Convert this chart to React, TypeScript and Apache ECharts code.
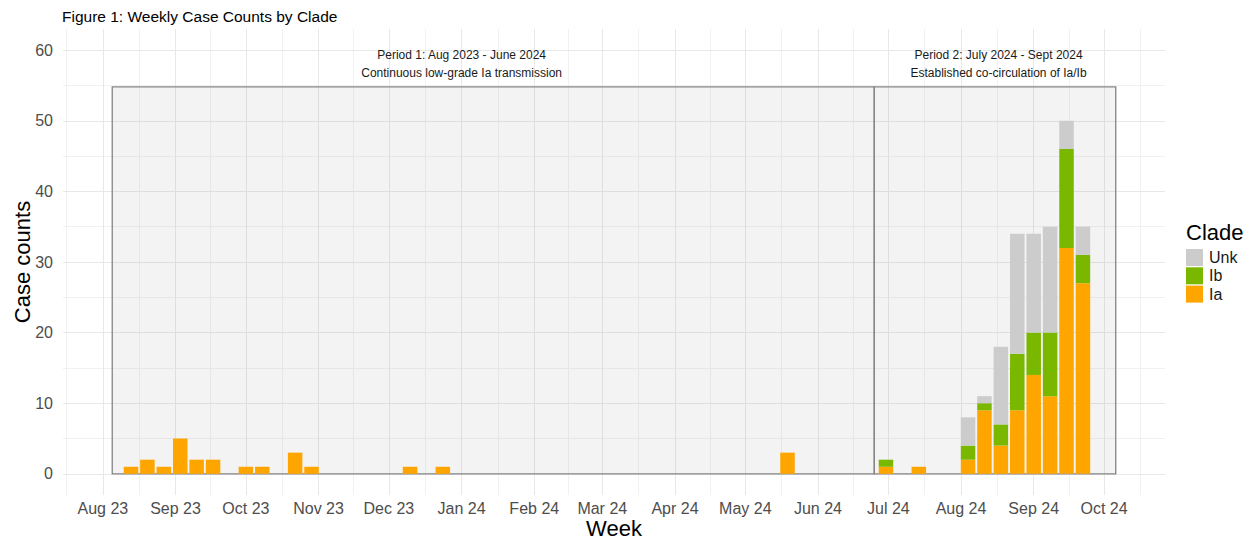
import React, { useEffect, useRef } from "react";
import * as echarts from "echarts";

// ---- data ----
const WEEKS = [
  "2023-08-13", "2023-08-20", "2023-08-27", "2023-09-03", "2023-09-10", "2023-09-17",
  "2023-10-01", "2023-10-08", "2023-10-22", "2023-10-29", "2023-12-10", "2023-12-24",
  "2024-05-19", "2024-06-30", "2024-07-14", "2024-08-04", "2024-08-11", "2024-08-18",
  "2024-08-25", "2024-09-01", "2024-09-08", "2024-09-15", "2024-09-22",
];
const IA = [1, 2, 1, 5, 2, 2, 1, 1, 3, 1, 1, 1, 3, 1, 1, 2, 9, 4, 9, 14, 11, 32, 27];
const IB = [0, 0, 0, 0, 0, 0, 0, 0, 0, 0, 0, 0, 0, 1, 0, 2, 1, 3, 8, 6, 9, 14, 4];
const UNK = [0, 0, 0, 0, 0, 0, 0, 0, 0, 0, 0, 0, 0, 0, 0, 4, 1, 11, 17, 14, 15, 4, 4];

const MONTH_BREAKS = [
  "2023-07-01", "2023-08-01", "2023-09-01", "2023-10-01", "2023-11-01", "2023-12-01",
  "2024-01-01", "2024-02-01", "2024-03-01", "2024-04-01", "2024-05-01", "2024-06-01",
  "2024-07-01", "2024-08-01", "2024-09-01", "2024-10-01", "2024-11-01",
];
const Y_MAJOR = [0, 10, 20, 30, 40, 50, 60];
const Y_MINOR = [5, 15, 25, 35, 45, 55];
const MONTH_NAMES = ["Jan", "Feb", "Mar", "Apr", "May", "Jun", "Jul", "Aug", "Sep", "Oct", "Nov", "Dec"];

const PERIODS = [
  { from: "2023-08-05", to: "2024-06-25", top: 54.8, labelAt: "2024-01-01", labelY: 58,
    text: "Period 1: Aug 2023 - June 2024\nContinuous low-grade Ia transmission" },
  { from: "2024-06-25", to: "2024-10-06", top: 54.8, labelAt: "2024-08-17", labelY: 58,
    text: "Period 2: July 2024 - Sept 2024\nEstablished co-circulation of Ia/Ib" },
];

const X_MIN = "2023-07-15";
const X_MAX = "2024-10-27";

const ts = (s: string) => Date.parse(s + "T00:00:00Z");
const FONT = "Liberation Sans, Arial, sans-serif";

export default function App() {
  const ref = useRef<HTMLDivElement>(null);
  useEffect(() => {
    if (!ref.current) return;
    const chart = echarts.init(ref.current, undefined, { renderer: "svg" });

    const xMin = ts(X_MIN);
    const xMax = ts(X_MAX);
    const majorX = MONTH_BREAKS.map(ts).filter((v) => v >= xMin && v <= xMax);
    const minorX: number[] = [];
    for (let i = 0; i + 1 < MONTH_BREAKS.length; i++) {
      const m = (ts(MONTH_BREAKS[i]) + ts(MONTH_BREAKS[i + 1])) / 2;
      if (m >= xMin && m <= xMax) minorX.push(m);
    }
    const majorStyle = { color: "#E8E8E8", width: 1, type: "solid" };
    const minorStyle = { color: "#F1F1F1", width: 1, type: "solid" };

    const gridLines: any[] = [];
    minorX.forEach((v) => gridLines.push({ xAxis: v, lineStyle: minorStyle }));
    Y_MINOR.forEach((v) => gridLines.push({ yAxis: v, lineStyle: minorStyle }));
    majorX.forEach((v) => gridLines.push({ xAxis: v, lineStyle: majorStyle }));
    Y_MAJOR.forEach((v) => gridLines.push({ yAxis: v, lineStyle: majorStyle }));

    // value first so that stacking happens on the y dimension
    const barSeries = (name: string, vals: number[], color: string) => ({
      name,
      type: "bar",
      stack: "clade",
      barWidth: 14.5,
      z: 3,
      xAxisIndex: 0,
      encode: { x: 1, y: 0 },
      itemStyle: { color },
      data: WEEKS.map((w, i) => [vals[i], ts(w)]),
    });

    const option: any = {
      animation: false,
      useUTC: true,
      backgroundColor: "#ffffff",
      textStyle: { fontFamily: FONT },
      title: [
        {
          text: "Figure 1: Weekly Case Counts by Clade",
          left: 62,
          top: 8,
          padding: 0,
          textStyle: { fontSize: 15.5, fontWeight: "normal", color: "#000", fontFamily: FONT },
        },
        {
          text: "Clade",
          left: 1186,
          top: 221,
          padding: 0,
          textStyle: { fontSize: 22, fontWeight: "normal", color: "#000", fontFamily: FONT },
        },
      ],
      legend: {
        data: ["Unk", "Ib", "Ia"],
        orient: "vertical",
        left: 1186,
        top: 249,
        padding: 0,
        itemWidth: 17,
        itemHeight: 17,
        itemGap: 1.3,
        icon: "rect",
        textStyle: { fontSize: 16, color: "#1A1A1A", fontFamily: FONT, padding: [0, 0, 0, 1] },
      },
      grid: { left: 63, right: 87, top: 29, bottom: 47, outerBoundsMode: "none", containLabel: false },
      xAxis: [
        {
          type: "value",
          min: xMin,
          max: xMax,
          show: false,
          splitLine: { show: false },
        },
        {
          type: "time",
          position: "bottom",
          min: xMin,
          max: xMax,
          splitNumber: 15,
          minInterval: 28 * 86400000,
          maxInterval: 31 * 86400000,
          name: "Week",
          nameLocation: "middle",
          nameGap: 22,
          nameMoveOverlap: false,
          nameTextStyle: { fontSize: 22, lineHeight: 22, color: "#000", fontFamily: FONT },
          axisLine: { show: false },
          axisTick: { show: false },
          splitLine: { show: false },
          axisLabel: {
            fontSize: 16,
            color: "#4D4D4D",
            margin: 5,
            fontFamily: FONT,
            formatter: (val: number) => {
              const d = new Date(val);
              if (d.getUTCDate() !== 1 || d.getUTCHours() !== 0) return "";
              return MONTH_NAMES[d.getUTCMonth()] + " " + String(d.getUTCFullYear()).slice(2);
            },
          },
        },
      ],
      yAxis: {
        type: "value",
        min: -3,
        max: 63,
        interval: 1,
        name: "Case counts",
        nameLocation: "middle",
        nameGap: 30,
        nameRotate: 90,
        nameMoveOverlap: false,
        nameTextStyle: { fontSize: 22, lineHeight: 22, color: "#000", fontFamily: FONT },
        axisLine: { show: false },
        axisTick: { show: false },
        splitLine: { show: false },
        axisLabel: {
          fontSize: 16,
          color: "#4D4D4D",
          margin: 10,
          fontFamily: FONT,
          formatter: (v: number) => (Y_MAJOR.indexOf(v) >= 0 ? String(v) : ""),
        },
      },
      series: [
        {
          name: "grid",
          type: "line",
          xAxisIndex: 0,
          data: [],
          z: 0,
          silent: true,
          markLine: {
            z: 0,
            silent: true,
            symbol: ["none", "none"],
            label: { show: false },
            data: gridLines,
          },
        },
        {
          name: "periods",
          type: "line",
          xAxisIndex: 0,
          data: [],
          z: 1,
          silent: true,
          markArea: {
            z: 1,
            silent: true,
            itemStyle: {
              color: "rgba(120,120,120,0.09)",
              borderColor: "#858585",
              borderWidth: 1.3,
            },
            data: PERIODS.map((p) => [
              { xAxis: ts(p.from), yAxis: 0 },
              { xAxis: ts(p.to), yAxis: p.top },
            ]),
          },
          markPoint: {
            z: 5,
            silent: true,
            symbol: "rect",
            symbolSize: 1,
            itemStyle: { color: "rgba(0,0,0,0)" },
            label: {
              show: true,
              position: "inside",
              fontSize: 12,
              lineHeight: 18,
              color: "#1A1A1A",
              fontFamily: FONT,
            },
            data: PERIODS.map((p) => ({
              coord: [ts(p.labelAt), p.labelY],
              label: { formatter: p.text },
            })),
          },
        },
        barSeries("Ia", IA, "#FFA500"),
        barSeries("Ib", IB, "#7AB800"),
        barSeries("Unk", UNK, "#CCCCCC"),
      ],
    };
    chart.setOption(option);
    return () => chart.dispose();
  }, []);
  return (
    <div
      ref={ref}
      style={{ position: "absolute", left: 0, top: 0, width: 1252, height: 542, background: "#fff" }}
    />
  );
}
